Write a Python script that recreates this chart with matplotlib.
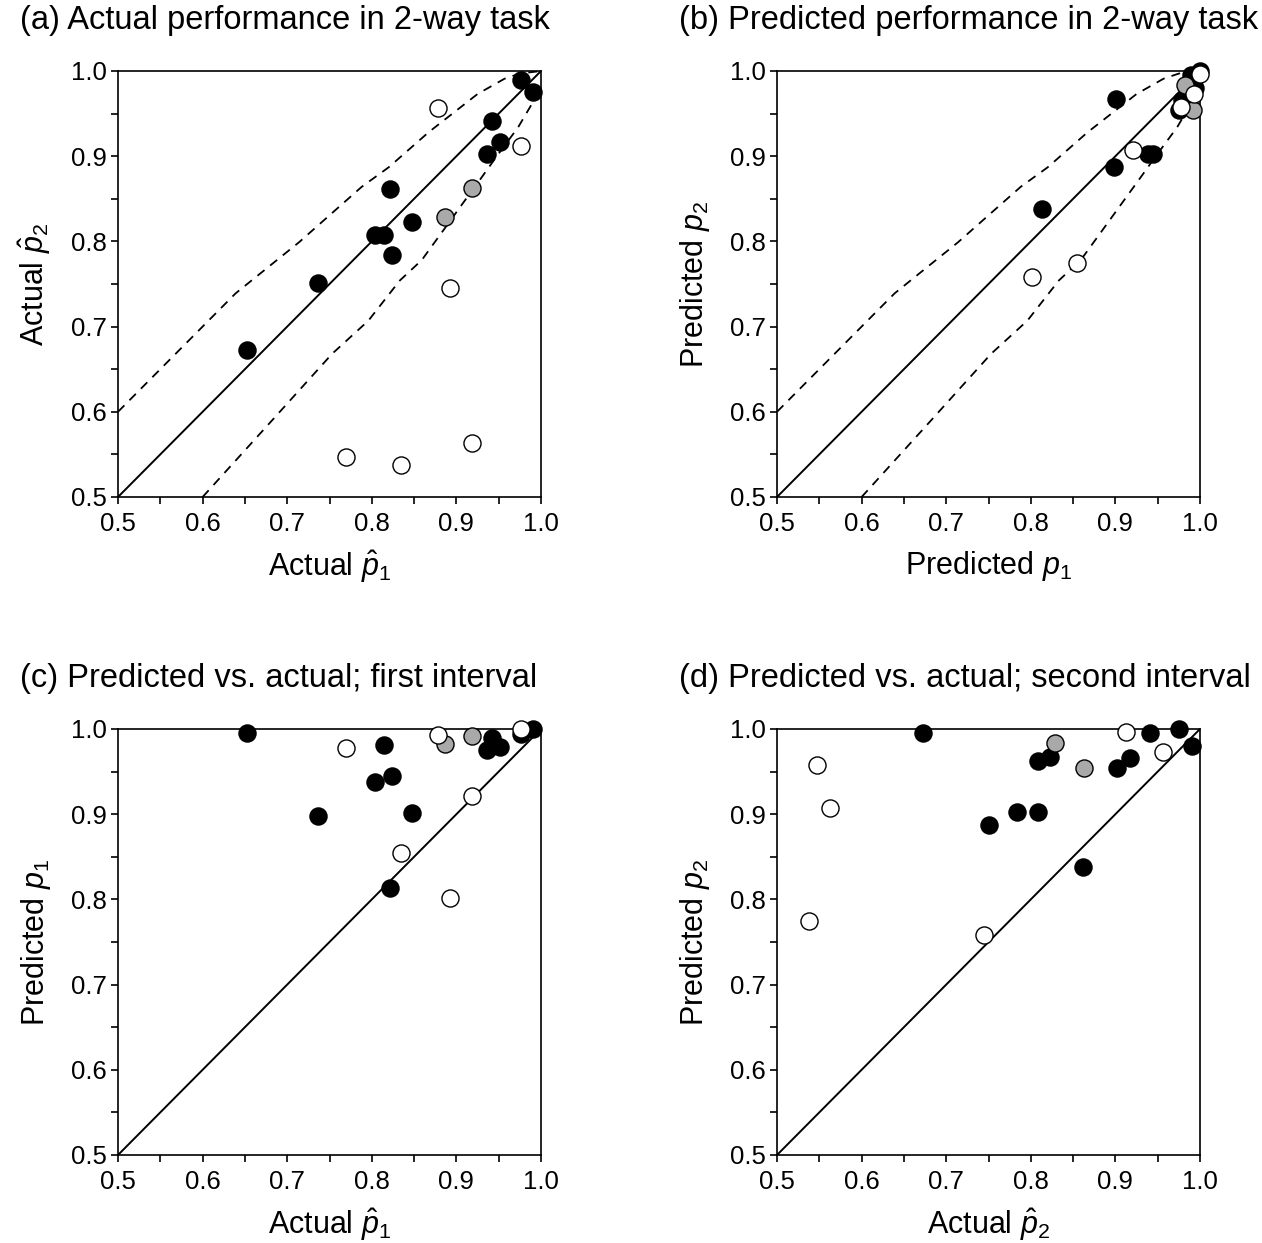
import matplotlib
matplotlib.use("Agg")
import matplotlib.pyplot as plt
from matplotlib.ticker import MultipleLocator

plt.rcParams['font.family'] = ['Liberation Sans', 'DejaVu Sans']
plt.rcParams['mathtext.fontset'] = 'custom'
plt.rcParams['mathtext.rm'] = 'Liberation Sans'
plt.rcParams['mathtext.it'] = 'Liberation Sans:italic'

# per-subject values: actual p1, actual p2, predicted p1, predicted p2
actual_p1 = [0.653, 0.736, 0.804, 0.815, 0.822, 0.824, 0.848, 0.936, 0.942, 0.952,
             0.976, 0.991, 0.887, 0.918, 0.878, 0.976, 0.893, 0.770, 0.834, 0.918]
actual_p2 = [0.673, 0.751, 0.808, 0.808, 0.862, 0.784, 0.823, 0.902, 0.941, 0.917,
             0.990, 0.975, 0.829, 0.863, 0.956, 0.912, 0.745, 0.547, 0.538, 0.563]
pred_p1 = [0.995, 0.898, 0.938, 0.981, 0.813, 0.945, 0.901, 0.975, 0.989, 0.979,
           0.994, 1.000, 0.982, 0.992, 0.993, 1.000, 0.802, 0.978, 0.855, 0.921]
pred_p2 = [0.995, 0.887, 0.903, 0.962, 0.838, 0.903, 0.967, 0.954, 0.995, 0.966,
           0.980, 1.000, 0.984, 0.954, 0.973, 0.996, 0.758, 0.958, 0.775, 0.907]
group = ["black"] * 12 + ["gray"] * 2 + ["white"] * 6

# dashed confidence band
upper_x = [0.5, 0.639, 0.714, 0.788, 0.820, 0.867, 0.925, 0.957, 0.975, 1.0]
upper_y = [0.6, 0.739, 0.799, 0.864, 0.887, 0.928, 0.973, 0.991, 0.997, 1.0]
lower_x = [0.6, 0.684, 0.753, 0.796, 0.833, 0.859, 0.886, 0.910, 0.929, 0.947, 0.973, 0.992, 0.998]
lower_y = [0.5, 0.592, 0.668, 0.707, 0.754, 0.778, 0.815, 0.848, 0.874, 0.899, 0.934, 0.966, 0.985]

fills = {"black": "black", "gray": "#a9a9a9", "white": "white"}

W, H = 1262, 1243
fig = plt.figure(figsize=(W / 100, H / 100), dpi=100)


def make_ax(left, top, title, title_x, title_y, xlabel, ylabel, xs, ys, band):
    ax = fig.add_axes([left / W, 1 - (top + 426) / H, 423 / W, 426 / H])
    ax.plot([0.5, 1.0], [0.5, 1.0], color="black", lw=1.4, zorder=1)
    if band:
        ax.plot(upper_x, upper_y, color="black", lw=1.3, dashes=(5, 4), zorder=1)
        ax.plot(lower_x, lower_y, color="black", lw=1.3, dashes=(5, 4), zorder=1)
    for g in ["black", "gray", "white"]:
        px = [x for x, gg in zip(xs, group) if gg == g]
        py = [y for y, gg in zip(ys, group) if gg == g]
        ax.plot(px, py, "o", ms=12.3, mfc=fills[g], mec="black", mew=1.0,
                clip_on=False, zorder=3)
    ax.set_xlim(0.5, 1.0)
    ax.set_ylim(0.5, 1.0)
    ax.xaxis.set_major_locator(MultipleLocator(0.1))
    ax.yaxis.set_major_locator(MultipleLocator(0.1))
    ax.xaxis.set_minor_locator(MultipleLocator(0.05))
    ax.yaxis.set_minor_locator(MultipleLocator(0.05))
    ax.xaxis.set_major_formatter(lambda v, p: f"{v:.1f}")
    ax.yaxis.set_major_formatter(lambda v, p: f"{v:.1f}")
    ax.tick_params(which="both", direction="out", top=False, right=False,
                   labelsize=18.5, width=1.2, length=5)
    ax.tick_params(axis="x", which="major", pad=6)
    ax.tick_params(axis="y", which="major", pad=3)
    for s in ax.spines.values():
        s.set_linewidth(1.2)
    ax.set_xlabel(xlabel, fontsize=22, labelpad=9)
    ax.set_ylabel(ylabel, fontsize=22, labelpad=13)
    fig.text(title_x / W, 1 - title_y / H, title, fontsize=23.5, ha="left", va="center")
    return ax


make_ax(118, 71, "(a) Actual performance in 2-way task", 20, 21,
        r"Actual $\hat{p}_1$", r"Actual $\hat{p}_2$", actual_p1, actual_p2, True)
make_ax(777, 71, "(b) Predicted performance in 2-way task", 679, 21,
        r"Predicted $p_1$", r"Predicted $p_2$", pred_p1, pred_p2, True)
make_ax(118, 729, "(c) Predicted vs. actual; first interval", 20, 679,
        r"Actual $\hat{p}_1$", r"Predicted $p_1$", actual_p1, pred_p1, False)
make_ax(777, 729, "(d) Predicted vs. actual; second interval", 679, 679,
        r"Actual $\hat{p}_2$", r"Predicted $p_2$", actual_p2, pred_p2, False)

fig.savefig("out.png", dpi=100, facecolor="white")
